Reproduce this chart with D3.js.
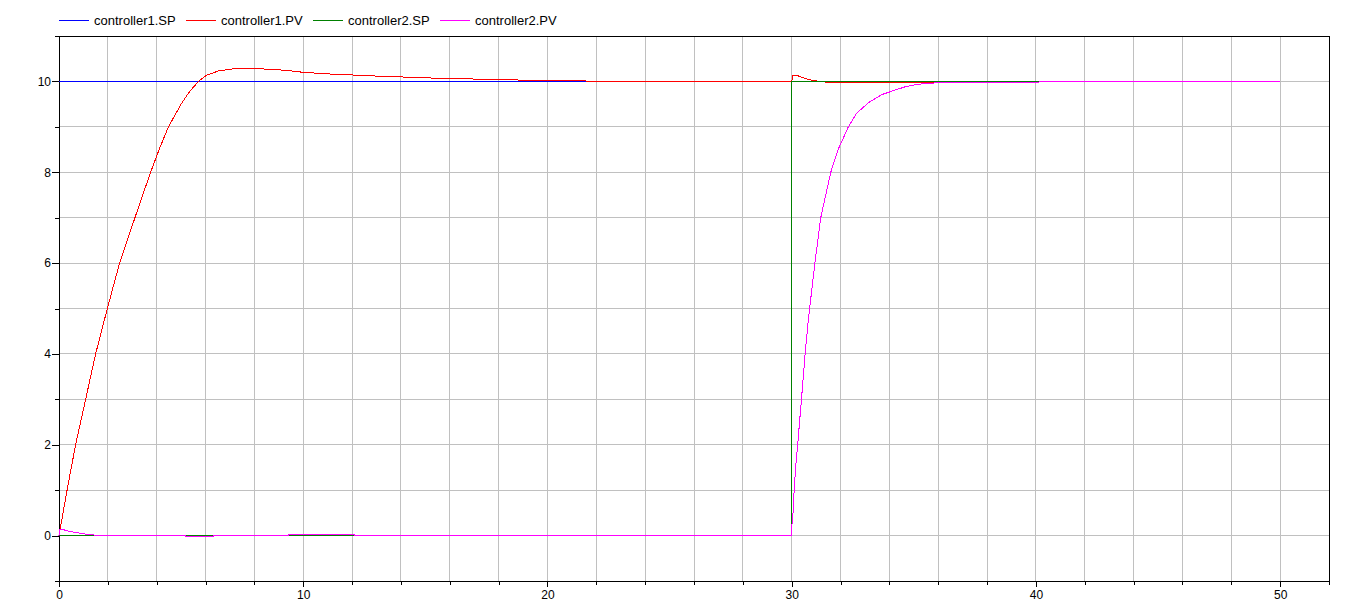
<!DOCTYPE html>
<html lang="en">
<head>
  <meta charset="UTF-8">
  <title>Controller step responses</title>
  <style>
    body { margin: 0; background: #fff; }
    svg { display: block; font-family: "Liberation Sans", Arial, sans-serif; }
  </style>
</head>
<body>
  <div id="chart"></div>

  <script src="https://d3js.org/d3.v7.min.js"></script>
  <script>

    // series, [time, value]
    const sp1 = [[0, 10], [50, 10]];

    const pv1 = [[0, 0], [0.33, 1], [0.68, 2], [1.09, 3], [1.5, 4], [1.98, 5], [2.48, 6],
      [3.11, 7], [3.75, 8], [4.1, 8.5], [4.48, 9], [5.0, 9.5], [5.35, 9.78], [5.71, 10],
      [6.05, 10.14], [6.53, 10.23], [7.0, 10.27], [7.6, 10.29], [8.1, 10.28], [8.9, 10.26],
      [9.45, 10.235], [10.0, 10.2], [10.7, 10.176], [11.4, 10.154], [12.1, 10.14],
      [13.0, 10.117], [14.2, 10.095], [15.7, 10.066], [17.8, 10.044], [19.5, 10.022],
      [21.5, 10.01], [22.1, 10], [30, 10], [30.05, 10.14], [30.23, 10.13], [30.37, 10.1],
      [30.58, 10.06], [30.78, 10.03], [31.03, 10.01], [31.5, 9.978], [35.5, 9.976],
      [36.3, 9.978], [36.35, 10], [50, 10]];

    const sp2 = [[0, 0], [30, 0], [30, 10], [50, 10]];

    const pv2 = [[0, 0], [0.02, 0.14], [0.18, 0.13], [0.38, 0.1], [0.66, 0.07], [1.0, 0.04],
      [1.47, 0.01], [1.6, 0], [5.16, 0], [5.17, -0.025], [6.32, -0.025], [6.33, 0], [9.4, 0],
      [9.41, 0.025], [12.1, 0.025], [12.11, 0], [30, 0], [30.01, 0.23], [30.05, 0.45],
      [30.09, 0.9], [30.13, 1.25], [30.17, 1.55], [30.22, 1.85], [30.26, 2.1], [30.4, 3.0],
      [30.55, 4.0], [30.68, 4.75], [30.95, 6], [31.19, 7], [31.6, 8], [31.9, 8.5],
      [32.32, 9], [32.66, 9.3], [33.14, 9.53], [33.69, 9.71], [34.24, 9.81], [34.64, 9.88],
      [35.1, 9.93], [35.5, 9.955], [36.35, 9.982], [40.1, 9.984], [40.2, 10], [50, 10]];

    const seriesNames = ["controller1.SP", "controller1.PV", "controller2.SP", "controller2.PV"];
    const seriesColors = ["#0000ff", "#ff0000", "#008000", "#ff00ff"];

    const xTicks = d3.range(0, 53, 2);
    const xLabels = [0, 10, 20, 30, 40, 50];
    const yTicks = d3.range(-1, 12, 1);
    const yLabels = [0, 2, 4, 6, 8, 10];

    const width = 1354,
          height = 606,
          margin = {top: 36, right: 25, bottom: 25, left: 59};

    const svg = d3.select("#chart")
      .append("svg")
      .attr("width", width)
      .attr("height", height);

    const x = d3.scaleLinear([0, 52], [margin.left, width - margin.right]);
    const y = d3.scaleLinear([-1, 11], [height - margin.bottom, margin.top]);

    // grid
    svg.append("g")
      .attr("stroke", "#c0c0c0")
      .attr("shape-rendering", "crispEdges")
      .selectAll("line")
      .data(xTicks.filter(d => d > 0 && d < 52))
      .join("line")
      .attr("x1", d => x(d)).attr("x2", d => x(d))
      .attr("y1", y(11)).attr("y2", y(-1));

    svg.append("g")
      .attr("stroke", "#c0c0c0")
      .attr("shape-rendering", "crispEdges")
      .selectAll("line")
      .data(d3.range(0, 11, 1))
      .join("line")
      .attr("y1", d => y(d)).attr("y2", d => y(d))
      .attr("x1", x(0)).attr("x2", x(52));

    // axes
    const xAxis = svg.append("g")
      .attr("transform", `translate(0,${y(-1)})`)
      .call(d3.axisBottom(x)
        .tickValues(xTicks)
        .tickSizeOuter(0)
        .tickSize(4)
        .tickPadding(5)
        .tickFormat(d => xLabels.includes(d) ? d : ""));
    xAxis.selectAll(".tick line")
      .attr("y2", d => xLabels.includes(d) ? 6 : 4);

    const yAxis = svg.append("g")
      .attr("transform", `translate(${x(0)},0)`)
      .call(d3.axisLeft(y)
        .tickValues(yTicks)
        .tickSizeOuter(0)
        .tickSize(4)
        .tickPadding(4)
        .tickFormat(d => yLabels.includes(d) ? d : ""));
    yAxis.selectAll(".tick line")
      .attr("x2", d => yLabels.includes(d) ? -7 : -4);

    svg.selectAll(".tick text")
      .attr("font-size", 12)
      .attr("font-family", "'Liberation Sans', Arial, sans-serif")
      .attr("fill", "#000");
    svg.selectAll(".domain, .tick line")
      .attr("stroke", "#000")
      .attr("shape-rendering", "crispEdges");

    // box top / right
    svg.append("path")
      .attr("d", `M${x(0)},${y(11)}H${x(52)}V${y(-1)}`)
      .attr("fill", "none")
      .attr("stroke", "#000")
      .attr("shape-rendering", "crispEdges");

    // lines
    const line = d3.line()
      .x(d => x(d[0]))
      .y(d => y(d[1]));

    svg.append("g")
      .selectAll("path")
      .data([sp1, pv1, sp2, pv2])
      .join("path")
      .attr("d", line)
      .attr("fill", "none")
      .attr("stroke", (d, i) => seriesColors[i])
      .attr("stroke-width", 1)
      .attr("shape-rendering", "crispEdges");

    // legend
    const legend = svg.selectAll(".legend-group")
      .data(seriesNames)
      .join("g")
      .attr("class", "legend-group")
      .attr("transform", (d, i) => `translate(${59 + i * 127},0)`);

    legend.append("line")
      .attr("x1", 0).attr("x2", 30)
      .attr("y1", 20).attr("y2", 20)
      .attr("stroke", (d, i) => seriesColors[i])
      .attr("shape-rendering", "crispEdges");

    legend.append("text")
      .attr("x", 35)
      .attr("y", 24.5)
      .attr("font-size", 13)
      .attr("fill", "#000")
      .text(d => d);

  </script>
</body>
</html>
